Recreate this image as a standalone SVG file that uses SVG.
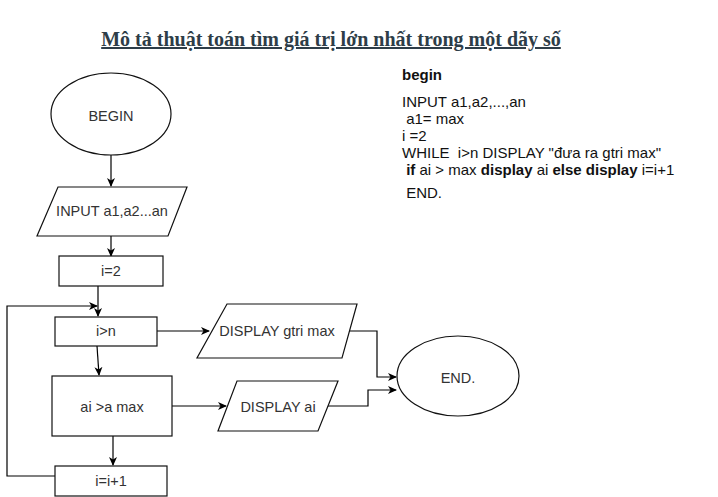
<svg xmlns="http://www.w3.org/2000/svg" width="718" height="497" viewBox="0 0 718 497">
<defs>
<marker id="ah" markerWidth="10" markerHeight="10" refX="8" refY="5" orient="auto" markerUnits="userSpaceOnUse"><path d="M0,1 L9,5 L0,9 L2.5,5 Z" fill="#000"/></marker>
</defs>
<style>
.s{fill:#fff;stroke:#111;stroke-width:1.2}
.t{font-family:"Liberation Sans",Arial,sans-serif;font-size:14.5px;fill:#333;text-anchor:middle;dominant-baseline:central}
.c{fill:none;stroke:#000;stroke-width:1.2;marker-end:url(#ah)}
.l{fill:none;stroke:#000;stroke-width:1.2}
.p{font-family:"Liberation Sans",Arial,sans-serif;font-size:15px;fill:#111}
.ti{font-family:"Liberation Serif","Times New Roman",serif;font-size:20px;font-weight:bold;fill:#2e3d48;text-anchor:middle;text-decoration:underline}
</style>
<rect width="718" height="497" fill="#fff"/>
<text class="ti" x="331" y="46">Mô tả thuật toán tìm giá trị lớn nhất trong một dãy số</text>
<g id="pseudo">
<text class="p" x="402" y="80" font-weight="bold">begin</text>
<text class="p" x="402" y="107">INPUT a1,a2,...,an</text>
<text class="p" x="402" y="124" xml:space="preserve"> a1= max</text>
<text class="p" x="402" y="141">i =2</text>
<text class="p" x="402" y="158" xml:space="preserve">WHILE  i&gt;n DISPLAY "đưa ra gtri max"</text>
<text class="p" x="402" y="175" xml:space="preserve"> <tspan font-weight="bold">if</tspan> ai &gt; max <tspan font-weight="bold">display</tspan> ai <tspan font-weight="bold">else display</tspan> i=i+1</text>
<text class="p" x="402" y="198" xml:space="preserve"> END.</text>
</g>
<g id="connectors">
<path class="c" d="M111,155 L111,186"/>
<path class="c" d="M111,236 L111,256"/>
<path class="c" d="M98,286 L98,316"/>
<path class="c" d="M55,476 L7,476 L7,306 L97,306"/>
<path class="c" d="M97,346 L99,375"/>
<path class="c" d="M113,436 L113,465"/>
<path class="c" d="M157,331 L209,331"/>
<path class="c" d="M172,406 L226,406"/>
<path class="c" d="M349,331 L377,331 L377,377 L396,377"/>
<path class="c" d="M327,406 L368,406 L368,390 L396,390"/>
</g>
<g id="begin"><ellipse class="s" cx="111" cy="114" rx="60" ry="41"/><text class="t" x="111" y="116">BEGIN</text></g>
<g id="input"><polygon class="s" points="58,187 187,187 168,236 37,236"/><text class="t" x="112" y="211">INPUT a1,a2...an</text></g>
<g id="i2"><rect class="s" x="59" y="256" width="104" height="30"/><text class="t" x="111" y="271">i=2</text></g>
<g id="cond1"><rect class="s" x="55" y="317" width="102" height="29"/><text class="t" x="106" y="331">i&gt;n</text></g>
<g id="cond2"><rect class="s" x="52" y="376" width="120" height="60"/><text class="t" x="112" y="407">ai &gt;a max</text></g>
<g id="inc"><rect class="s" x="55" y="466" width="112" height="30"/><text class="t" x="111" y="481">i=i+1</text></g>
<g id="dispmax"><polygon class="s" points="227,304 357,304 342,358 197,358"/><text class="t" x="277" y="331">DISPLAY gtri max</text></g>
<g id="dispai"><polygon class="s" points="237,381 338,381 318,431 218,431"/><text class="t" x="278" y="407">DISPLAY ai</text></g>
<g id="end"><ellipse class="s" cx="458" cy="376" rx="61" ry="40"/><text class="t" x="458" y="378">END.</text></g>
</svg>
